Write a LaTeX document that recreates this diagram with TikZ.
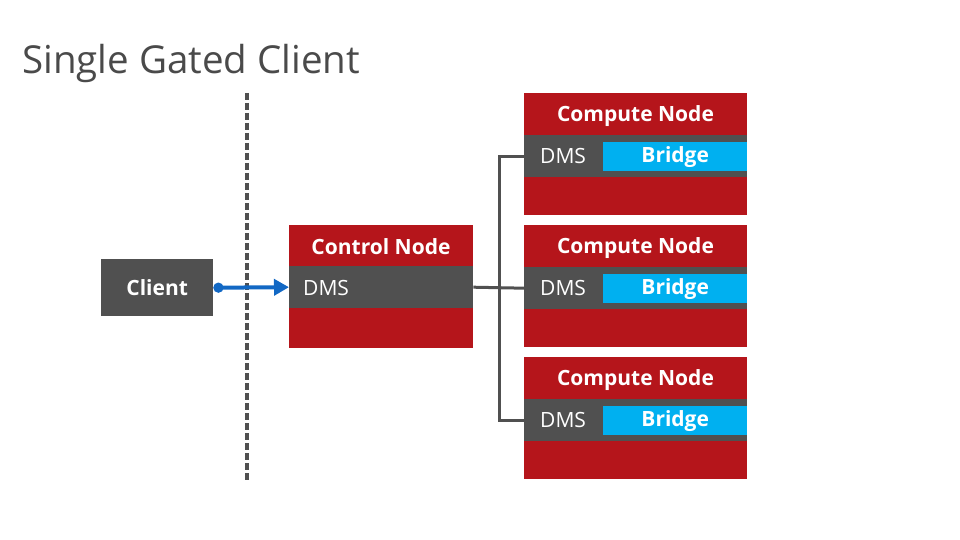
\documentclass[tikz,border=0pt]{standalone}
\usepackage{fontspec}
\setmainfont{Open Sans}
\usetikzlibrary{arrows.meta}

\definecolor{nodered}{HTML}{B5151B}
\definecolor{bandgray}{HTML}{505050}
\definecolor{bridgeblue}{HTML}{00B0F0}
\definecolor{arrowblue}{HTML}{1268C4}
\definecolor{titlegray}{HTML}{4A4A4A}

\tikzset{
  redbox/.style={fill=nodered, draw=none, anchor=north west, inner sep=0pt},
  bandbox/.style={fill=bandgray, draw=none, anchor=north west, inner sep=0pt, minimum height=42},
  bridgebox/.style={fill=bridgeblue, draw=none, anchor=north west, inner sep=0pt,
    minimum width=144, minimum height=29, text=white, font=\fontsize{21}{24}\selectfont\bfseries},
  headtext/.style={text=white, font=\fontsize{21}{24}\selectfont\bfseries, inner sep=0pt},
  dmstext/.style={text=white, font=\fontsize{21}{24}\selectfont, anchor=west, inner sep=0pt},
  link/.style={draw=bandgray, line width=3, line join=miter}
}

\begin{document}
\begin{tikzpicture}[x=1pt, y=-1pt]
  \useasboundingbox (0,0) rectangle (960,540);

  % title
  \node[anchor=base west, inner sep=0pt, text=titlegray,
    font=\fontsize{38.5}{44}\selectfont] (title) at (22,74) {Single Gated Client};

  % gate
  \draw[bandgray, line width=4, dash pattern=on 7pt off 3pt] (247,93) -- (247,482);

  % client
  \node[fill=bandgray, anchor=north west, inner sep=0pt, minimum width=112, minimum height=57,
    text=white, font=\fontsize{21}{24}\selectfont\bfseries] (client) at (101,259) {Client};

  % control node
  \node[redbox, minimum width=184, minimum height=123] (ctl) at (289,225) {};
  \node[headtext] (ctlhead) at (381,247) {Control Node};
  \node[bandbox, minimum width=184] (ctlband) at (289,266) {};
  \node[dmstext] (ctldms) at (303,288) {DMS};

  % compute nodes
  \foreach \i/\y in {1/93,2/225,3/357}{
    \node[redbox, minimum width=223, minimum height=122] (cn\i) at (524,\y) {};
    \node[headtext] (cnhead\i) at (635.5,{\y+23}) {Compute Node};
    \node[bandbox, minimum width=223] (cnband\i) at (524,{\y+42}) {};
    \node[dmstext] (cndms\i) at (540,{\y+63}) {DMS};
    \node[bridgebox] (bridge\i) at (603,{\y+49}) {Bridge};
  }

  % links
  \coordinate (trunk) at (499,288);
  \draw[link] (ctlband.east) -- (cnband2.west);
  \draw[link] (cnband1.west) -| (trunk);
  \draw[link] (cnband3.west) -| (trunk);

  \draw[arrowblue, line width=4, {Circle[length=10pt]}-{Triangle[length=15pt,width=16pt]}]
    (client.east) -- (ctlband.west);
\end{tikzpicture}
\end{document}
